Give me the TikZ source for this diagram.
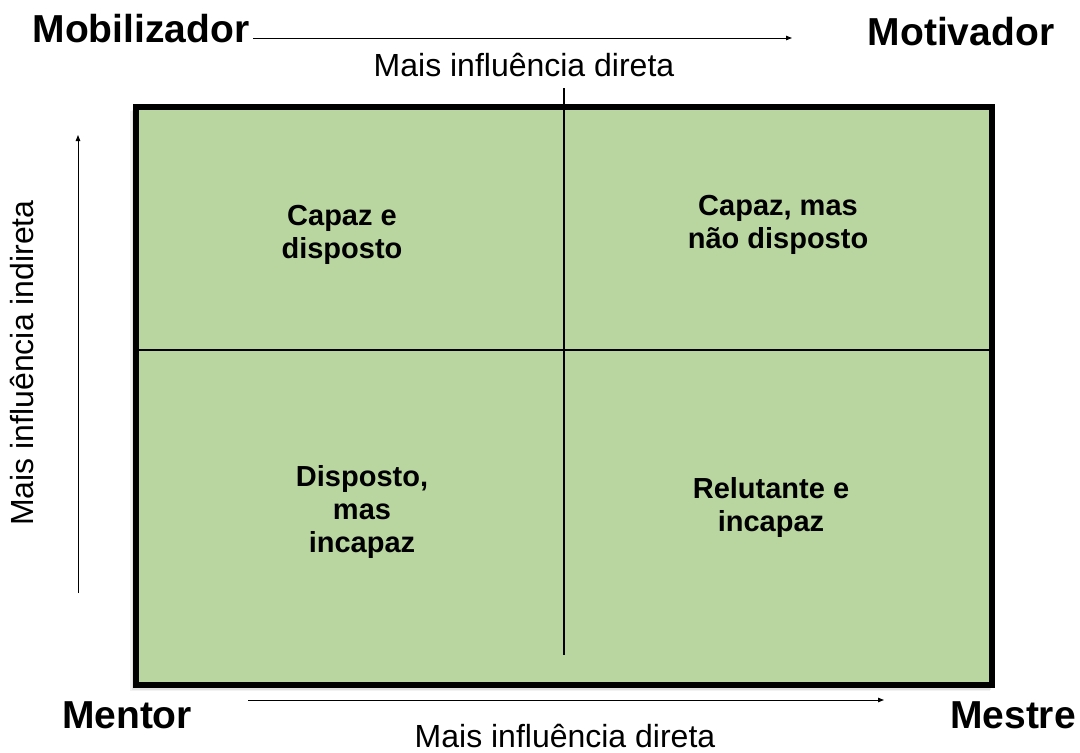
\documentclass[tikz,border=0pt]{standalone}
\usepackage{fontspec}
\setmainfont{Liberation Sans}
\usetikzlibrary{arrows.meta}
\definecolor{quadgreen}{RGB}{186,214,160}
\tikzset{
  corner/.style={font=\fontsize{39}{44}\selectfont\bfseries, inner sep=0pt, anchor=base},
  axislabel/.style={font=\fontsize{32}{38}\selectfont, inner sep=0pt, anchor=base},
  quad/.style={font=\fontsize{29}{33}\selectfont\bfseries, align=center, inner sep=0pt},
  axisarrow/.style={line width=1pt, -{Triangle[length=6pt,width=4.5pt]}},
  divider/.style={line width=1.2pt},
}
\begin{document}
\begin{tikzpicture}[x=1pt,y=-1pt]
\useasboundingbox (0,0) rectangle (1080,753);
% shadow
\foreach \o/\a in {6/0.05,4.5/0.07,3/0.09}{
  \fill[black,opacity=\a] (136-\o,107+\o*0.6) rectangle (992-\o*0.3,685+\o);
}
% box
\draw[line width=6pt, fill=quadgreen] (136,107) rectangle (992,685);
% dividers
\coordinate (vtop) at (564,88);
\coordinate (vbot) at (564,655);
\coordinate (hl) at (139,350);
\coordinate (hr) at (989,350);
\draw[divider] (vtop) -- (vbot);
\draw[divider] (hl) -- (hr);
% corner labels
\node[corner] (mob) at (141,42) {Mobilizador};
\node[corner] (mot) at (961,45) {Motivador};
\node[corner] (men) at (127,728) {Mentor};
\node[corner] (mes) at (1013,728) {Mestre};
% axis labels
\node[axislabel] (toplab) at (524,76) {Mais influência direta};
\node[axislabel] (botlab) at (565,747) {Mais influência direta};
\node[axislabel, rotate=90] (leftlab) at (34,363) {Mais influência indireta};
% arrows
\coordinate (ta0) at (253,38);
\coordinate (ta1) at (792,38);
\coordinate (ba0) at (248,700);
\coordinate (ba1) at (884,700);
\coordinate (la0) at (78,593);
\coordinate (la1) at (78,135);
\draw[axisarrow] (ta0) -- (ta1);
\draw[axisarrow] (ba0) -- (ba1);
\draw[axisarrow] (la0) -- (la1);
% quadrant texts
\node[quad] (q1) at (342,235) {Capaz e\\disposto};
\node[quad] (q2) at (778,225) {Capaz, mas\\não disposto};
\node[quad] (q3) at (362,512) {Disposto,\\mas\\incapaz};
\node[quad] (q4) at (771,507) {Relutante e\\incapaz};
\end{tikzpicture}
\end{document}
